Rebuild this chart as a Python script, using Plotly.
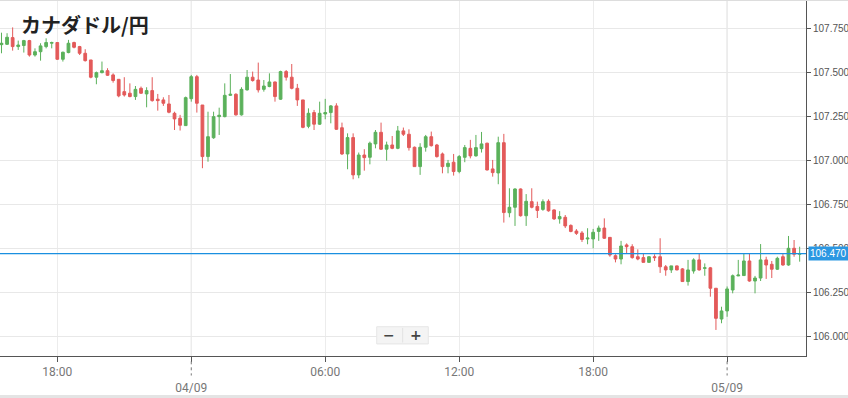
import pandas as pd
import plotly.graph_objects as go

# ---- data (15-minute candles, CAD/JPY) ----
start_time = "2023-09-03 15:30"
n_candles = 144

opens = [107.657,107.659,107.697,107.646,107.652,107.680,107.598,107.617,107.646,107.665,
         107.669,107.574,107.612,107.669,107.646,107.608,107.570,107.472,107.498,107.509,
         107.485,107.460,107.390,107.381,107.362,107.409,107.377,107.396,107.347,107.343,
         107.320,107.267,107.239,107.197,107.350,107.475,107.314,107.021,107.128,107.248,
         107.248,107.369,107.375,107.258,107.400,107.472,107.456,107.403,107.419,107.445,
         107.347,107.504,107.472,107.409,107.343,107.193,107.271,107.205,107.263,107.271,
         107.309,107.185,107.036,107.129,106.917,107.030,107.017,107.093,107.159,107.063,
         107.087,107.068,107.167,107.148,107.074,106.964,107.074,107.134,107.087,107.036,
         106.964,106.989,106.936,107.017,107.068,107.025,107.066,107.097,106.951,106.928,
         107.100,106.702,106.733,106.837,106.685,106.765,106.738,106.721,106.767,106.718,
         106.667,106.676,106.630,106.598,106.587,106.553,106.553,106.596,106.615,106.562,
         106.458,106.439,106.519,106.509,106.452,106.447,106.420,106.452,106.452,106.395,
         106.377,106.400,106.383,106.311,106.371,106.434,106.386,106.389,106.273,106.098,
         106.144,106.263,106.343,106.345,106.428,106.314,106.331,106.434,106.409,106.381,
         106.452,106.405,106.500,106.466]
highs = [107.725,107.722,107.755,107.680,107.684,107.684,107.636,107.665,107.693,107.674,
         107.670,107.617,107.684,107.674,107.650,107.631,107.570,107.504,107.561,107.523,
         107.494,107.460,107.472,107.437,107.422,107.419,107.415,107.472,107.377,107.358,
         107.371,107.276,107.258,107.362,107.485,107.485,107.314,107.276,107.276,107.299,
         107.437,107.490,107.381,107.415,107.513,107.504,107.555,107.456,107.494,107.447,
         107.509,107.513,107.547,107.434,107.343,107.295,107.286,107.333,107.349,107.314,
         107.324,107.214,107.153,107.153,107.044,107.063,107.106,107.172,107.214,107.106,
         107.138,107.195,107.186,107.176,107.078,107.097,107.144,107.163,107.093,107.044,
         107.002,107.036,107.030,107.087,107.116,107.144,107.161,107.100,107.002,107.134,
         107.150,106.841,106.841,106.840,106.808,106.841,106.765,106.778,106.778,106.721,
         106.711,106.689,106.636,106.609,106.598,106.614,106.610,106.629,106.670,106.562,
         106.466,106.542,106.528,106.523,106.494,106.472,106.455,106.466,106.557,106.405,
         106.400,106.402,106.388,106.434,106.443,106.472,106.414,106.394,106.273,106.168,
         106.283,106.351,106.434,106.472,106.472,106.343,106.524,106.452,106.428,106.452,
         106.467,106.570,106.547,106.509]
lows = [107.608,107.655,107.623,107.627,107.612,107.589,107.589,107.566,107.636,107.636,
        107.570,107.561,107.608,107.636,107.598,107.561,107.466,107.432,107.494,107.479,
        107.441,107.358,107.362,107.358,107.343,107.377,107.301,107.333,107.282,107.309,
        107.267,107.172,107.169,107.195,107.333,107.271,106.955,106.992,107.122,107.144,
        107.244,107.366,107.254,107.254,107.396,107.447,107.385,107.390,107.415,107.333,
        107.343,107.453,107.403,107.309,107.182,107.182,107.172,107.201,107.233,107.210,
        107.172,107.030,106.949,106.892,106.898,106.941,106.977,107.068,107.059,106.998,
        107.063,107.063,107.138,107.055,106.964,106.917,107.049,107.078,107.015,106.926,
        106.926,106.913,106.926,106.989,107.011,107.021,107.044,106.942,106.907,106.864,
        106.646,106.676,106.627,106.680,106.627,106.727,106.672,106.713,106.708,106.661,
        106.640,106.615,106.591,106.576,106.536,106.523,106.500,106.542,106.553,106.452,
        106.420,106.409,106.472,106.441,106.432,106.420,106.418,106.428,106.360,106.344,
        106.360,106.375,106.309,106.288,106.356,106.373,106.344,106.225,106.036,106.074,
        106.111,106.244,106.342,106.343,106.310,106.244,106.314,106.326,106.331,106.377,
        106.401,106.401,106.452,106.424]
closes = [107.665,107.699,107.646,107.655,107.680,107.598,107.617,107.650,107.669,107.669,
          107.574,107.614,107.665,107.642,107.608,107.566,107.472,107.498,107.509,107.483,
          107.453,107.366,107.371,107.362,107.403,107.381,107.396,107.339,107.339,107.324,
          107.273,107.235,107.199,107.356,107.475,107.324,107.021,107.134,107.248,107.256,
          107.369,107.375,107.258,107.403,107.472,107.453,107.400,107.422,107.445,107.362,
          107.504,107.472,107.409,107.343,107.187,107.267,107.205,107.267,107.271,107.309,
          107.176,107.036,107.129,106.917,107.030,107.015,107.097,107.159,107.063,107.087,
          107.068,107.167,107.148,107.072,106.964,107.074,107.134,107.083,107.021,106.964,
          106.983,106.936,107.021,107.072,107.025,107.072,107.093,106.945,106.930,107.100,
          106.703,106.733,106.837,106.685,106.767,106.733,106.715,106.765,106.713,106.667,
          106.680,106.627,106.596,106.585,106.550,106.558,106.591,106.615,106.557,106.462,
          106.439,106.513,106.509,106.447,106.439,106.420,106.452,106.447,106.395,106.377,
          106.400,106.377,106.311,106.377,106.434,106.377,106.389,106.273,106.102,106.144,
          106.269,106.344,106.348,106.428,106.314,106.331,106.434,106.405,106.381,106.443,
          106.405,106.500,106.466,106.470]

current_price = 106.470
title_text = "カナダドル/円"

x_tick_times = ["2023-09-03 18:00", "2023-09-04 00:00", "2023-09-04 06:00",
                "2023-09-04 12:00", "2023-09-04 18:00", "2023-09-05 00:00"]
x_tick_text = ["18:00", "<br>04/09", "06:00", "12:00", "18:00", "<br>05/09"]
day_times = ["2023-09-04 00:00", "2023-09-05 00:00"]
y_ticks = [106.0, 106.25, 106.5, 106.75, 107.0, 107.25, 107.5, 107.75]
x_range = ["2023-09-03 15:26", "2023-09-05 03:32"]
y_range = [105.888, 107.905]

times = pd.date_range(start=start_time, periods=n_candles, freq="15min")

GREEN = "#5bb15b"
RED = "#e35a5a"

fig = go.Figure(go.Candlestick(
    x=times, open=opens, high=highs, low=lows, close=closes,
    increasing=dict(line=dict(color=GREEN, width=1), fillcolor=GREEN),
    decreasing=dict(line=dict(color=RED, width=1), fillcolor=RED),
    hoverinfo="skip", showlegend=False,
))

shapes = []
# darker day grid lines and dotted tick extensions
for t in day_times:
    shapes.append(dict(type="line", xref="x", yref="paper", x0=t, x1=t, y0=0, y1=1,
                       line=dict(color="#d6d6d6", width=1), layer="below"))
    shapes.append(dict(type="line", xref="x", yref="paper", x0=t, x1=t, y0=-0.015, y1=-0.055,
                       line=dict(color="#777", width=1, dash="dot")))
# current price line
shapes.append(dict(type="line", xref="paper", yref="y", x0=0, x1=1,
                   y0=current_price, y1=current_price,
                   line=dict(color="#1a8fe0", width=1.3)))
# top border and bottom strip
shapes.append(dict(type="line", xref="paper", yref="paper", x0=0, x1=1.06, y0=1.0015, y1=1.0015,
                   line=dict(color="#dcdcdc", width=1)))
shapes.append(dict(type="rect", xref="paper", yref="paper", x0=0, x1=1.06, y0=-0.118, y1=-0.11,
                   fillcolor="#e4e4e4", line=dict(width=0)))
# zoom button box
shapes.append(dict(type="rect", xref="paper", yref="paper", x0=0.4674, x1=0.5314, y0=0.034, y1=0.0825,
                   fillcolor="#f4f4f4", line=dict(color="#e6e6e6", width=1)))
shapes.append(dict(type="line", xref="paper", yref="paper", x0=0.4996, x1=0.4996, y0=0.038, y1=0.079,
                   line=dict(color="#e2e2e2", width=1)))

annotations = [
    dict(text=f"<b>{title_text}</b>", xref="paper", yref="paper", x=0.0235, y=0.935,
         xanchor="left", yanchor="middle", showarrow=False,
         font=dict(family="Noto Sans CJK JP", size=20, color="#222")),
    dict(text=f"{current_price:.3f}", xref="paper", yref="y", x=1.0, y=current_price,
         xanchor="left", yanchor="middle", xshift=2, showarrow=False,
         bgcolor="#2b97e2", borderpad=1,
         font=dict(family="Liberation Sans", size=10, color="white")),
    dict(text="<b>−</b>", xref="paper", yref="paper", x=0.483, y=0.058, showarrow=False,
         xanchor="center", yanchor="middle",
         font=dict(family="DejaVu Sans", size=14, color="#444")),
    dict(text="<b>+</b>", xref="paper", yref="paper", x=0.5158, y=0.058, showarrow=False,
         xanchor="center", yanchor="middle",
         font=dict(family="DejaVu Sans", size=14, color="#444")),
]

fig.update_layout(
    width=848, height=398,
    margin=dict(l=0, r=42, t=1, b=42, autoexpand=False),
    paper_bgcolor="white", plot_bgcolor="white",
    showlegend=False, hovermode=False,
    shapes=shapes, annotations=annotations,
    xaxis=dict(
        type="date", range=x_range, rangeslider=dict(visible=False),
        tickvals=x_tick_times, ticktext=x_tick_text,
        showgrid=True, gridcolor="#ececec", gridwidth=1,
        showline=True, linecolor="#555", linewidth=1,
        ticks="outside", ticklen=5, tickcolor="#555",
        tickfont=dict(family="Roboto", size=12, color="#777"),
        zeroline=False,
    ),
    yaxis=dict(
        side="right", range=y_range,
        tickvals=y_ticks, tickformat=".3f",
        showgrid=True, gridcolor="#e8e8e8", gridwidth=1,
        showline=True, linecolor="#555", linewidth=1,
        ticks="outside", ticklen=4, tickcolor="#555",
        tickfont=dict(family="Liberation Sans", size=10, color="#555"),
        zeroline=False,
    ),
)

fig.write_html("out.html", config={"displayModeBar": False},
               post_script="document.body.style.margin='0';")
